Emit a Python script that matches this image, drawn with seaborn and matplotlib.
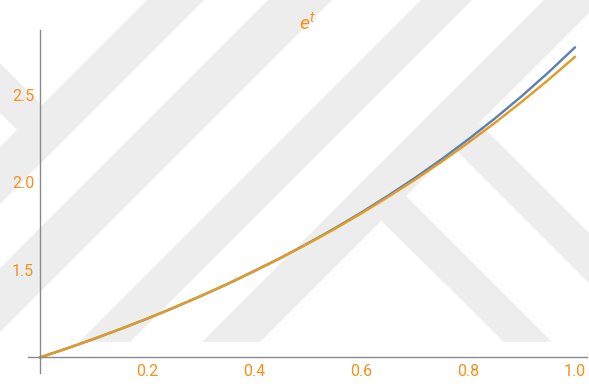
import matplotlib
matplotlib.use("Agg")
import matplotlib.pyplot as plt
import pandas as pd
import seaborn as sns
from matplotlib.patches import Polygon
from matplotlib.ticker import FixedLocator, MultipleLocator

# sample times
t = [0.00, 0.05, 0.10, 0.15, 0.20, 0.25, 0.30, 0.35, 0.40, 0.45, 0.50,
     0.55, 0.60, 0.65, 0.70, 0.75, 0.80, 0.85, 0.90, 0.95, 1.00]
# approximate solution (blue)
approx = [1.000, 1.051, 1.105, 1.162, 1.221, 1.284, 1.350, 1.419, 1.493, 1.569, 1.651,
          1.736, 1.827, 1.923, 2.024, 2.131, 2.245, 2.365, 2.492, 2.628, 2.772]
# exact solution e^t (orange)
exact = [1.000, 1.051, 1.105, 1.162, 1.221, 1.284, 1.350, 1.419, 1.492, 1.568, 1.649,
         1.733, 1.822, 1.916, 2.014, 2.117, 2.226, 2.340, 2.460, 2.586, 2.718]

x_ticks = [0.2, 0.4, 0.6, 0.8, 1.0]
x_labels = ["0.2", "0.4", "0.6", "0.8", "1.0"]
y_ticks = [1.5, 2.0, 2.5]
y_labels = ["1.5", "2.0", "2.5"]

BLUE = "#5E81B5"
ORANGE = "#E19C24"
LABEL = "#F7901A"
AXIS = "#8A8A8A"
SHADE = "#EDEDED"

sns.set_style("white")
plt.rcParams["font.family"] = ["Roboto", "DejaVu Sans"]
plt.rcParams["mathtext.fontset"] = "custom"
plt.rcParams["mathtext.it"] = "Roboto:italic"
plt.rcParams["mathtext.rm"] = "Roboto"

W, H = 589, 390
fig = plt.figure(figsize=(W / 100, H / 100), dpi=100)
fig.patch.set_facecolor("white")

# light diagonal band pattern behind the plot (pixel coordinates, y downward)
bg = fig.add_axes([0, 0, 1, 1], zorder=0)
bg.set_xlim(0, W)
bg.set_ylim(H, 0)
bg.axis("off")


def rising(c1, c2, y0, y1):
    return [(c1 - y0, y0), (c2 - y0, y0), (c2 - y1, y1), (c1 - y1, y1)]


bands = [
    rising(147, 204, -10, 240),
    rising(268, 332, -10, 360),
    rising(421, 472, -10, 342),
    rising(544, 602, -10, 342),
    [(352, 192), (377, 167), (552, 342), (504, 342)],
    [(425, 119), (450, 94), (756, 400), (706, 400)],
    [(-10, 53), (-10, 103), (17, 130), (42, 105)],
]
for pts in bands:
    bg.add_patch(Polygon(pts, closed=True, facecolor=SHADE, edgecolor="none"))

ax = fig.add_axes([28 / W, 17 / H, 559 / W, 343 / H], zorder=1)
ax.patch.set_alpha(0)

df = pd.DataFrame({
    "t": t + t,
    "value": approx + exact,
    "curve": ["approx"] * len(t) + ["exact"] * len(t),
})
sns.lineplot(data=df, x="t", y="value", hue="curve",
             palette={"approx": BLUE, "exact": ORANGE},
             hue_order=["approx", "exact"], linewidth=1.75,
             legend=False, ax=ax)

ax.set_xlim(-0.0224, 1.0224)
ax.set_ylim(0.911, 2.871)
ax.set_xlabel("")
ax.set_ylabel("")

for side in ("top", "right"):
    ax.spines[side].set_visible(False)
ax.spines["left"].set_position(("data", 0.0))
ax.spines["bottom"].set_position(("data", 1.0))
for side in ("left", "bottom"):
    ax.spines[side].set_color(AXIS)
    ax.spines[side].set_linewidth(1.0)

ax.xaxis.set_major_locator(FixedLocator(x_ticks))
ax.set_xticklabels(x_labels)
ax.xaxis.set_minor_locator(MultipleLocator(0.05))
ax.yaxis.set_major_locator(FixedLocator(y_ticks))
ax.set_yticklabels(y_labels)
ax.yaxis.set_minor_locator(MultipleLocator(0.1))

ax.tick_params(which="both", direction="in", color=AXIS, width=0.9,
               labelcolor=LABEL, labelsize=11.5)
ax.tick_params(which="major", length=4.3)
ax.tick_params(which="minor", length=2.6)
ax.tick_params(axis="x", which="major", pad=5.0)
ax.tick_params(axis="y", which="major", pad=4.3)

ax.set_title(r"$e^t$", color=LABEL, fontsize=14, pad=1)

fig.savefig("out.png", dpi=100)
